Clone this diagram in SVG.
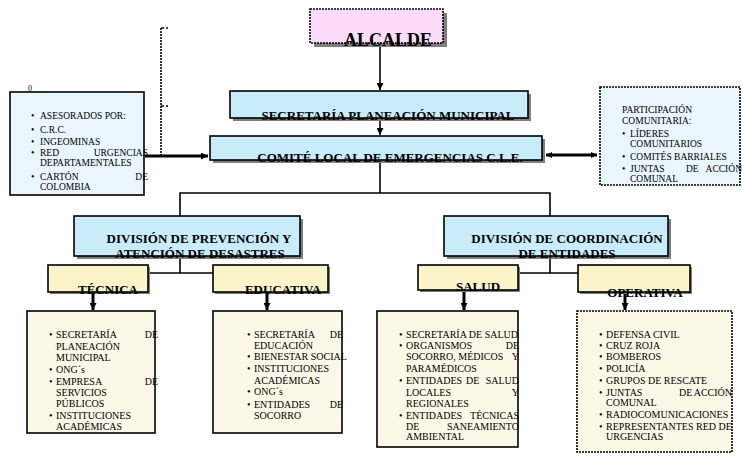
<svg xmlns="http://www.w3.org/2000/svg" width="742" height="462" viewBox="0 0 742 462">
<defs>
<marker id="ah" viewBox="0 0 10 10" refX="10" refY="5" markerWidth="7" markerHeight="7" markerUnits="userSpaceOnUse" orient="auto"><path d="M0,0 L10,5 L0,10 z" fill="#000"/></marker>
<marker id="ahs" viewBox="0 0 10 10" refX="10" refY="5" markerWidth="6" markerHeight="6" markerUnits="userSpaceOnUse" orient="auto-start-reverse"><path d="M0,0 L10,5 L0,10 z" fill="#000"/></marker>
</defs>
<style>
text{font-family:"Liberation Serif","Times New Roman",serif;fill:#000}
.t{font-weight:bold;font-size:13px;text-anchor:middle}
.l{font-size:10px}
.s{font-size:9.5px}
.e{text-anchor:end}
.sh{fill:#7f7f7f}
.box{stroke:#000;stroke-width:1.6}
.dash{stroke:#000;stroke-width:1.6;stroke-dasharray:2 1}
.blue{fill:#c8ecfa}
.pale{fill:#eaf6fd}
.yel{fill:#faf4c8}
.cream{fill:#fcf8e8}
.ln{stroke:#000;stroke-width:1.6;fill:none}
.th{stroke:#000;stroke-width:3;fill:none}
</style>

<g id="connectors">
<line class="ln" x1="380" y1="44" x2="380" y2="90" marker-end="url(#ah)"/>
<line class="ln" x1="380" y1="119" x2="380" y2="135" marker-end="url(#ah)"/>
<line class="th" x1="145" y1="156" x2="208" y2="156" marker-end="url(#ah)"/>
<line class="ln" x1="161" y1="28" x2="161" y2="156" stroke-dasharray="2 1"/>
<line class="ln" x1="161" y1="28" x2="168" y2="28" stroke-dasharray="3 2"/>
<line class="ln" x1="161" y1="106" x2="168" y2="106" stroke-dasharray="3 2"/>
<line class="th" x1="546" y1="155" x2="597" y2="155" marker-start="url(#ahs)" marker-end="url(#ahs)"/>
<polyline class="ln" points="380,161 380,193"/>
<polyline class="ln" points="180,216 180,193 550,193 550,216"/>
<polyline class="ln" points="180,257 180,273"/>
<line class="ln" x1="148" y1="273" x2="213" y2="273"/>
<polyline class="ln" points="550,257 550,273"/>
<line class="ln" x1="518" y1="273" x2="578" y2="273"/>
<line class="th" x1="93" y1="293" x2="93" y2="310" marker-end="url(#ah)"/>
<line class="th" x1="267" y1="293" x2="267" y2="310" marker-end="url(#ah)"/>
<line class="th" x1="464" y1="291" x2="464" y2="310" marker-end="url(#ah)"/>
<line class="th" x1="625" y1="293" x2="625" y2="310" marker-end="url(#ah)"/>
</g>

<g id="alcalde">
<rect class="sh" x="314" y="13" width="133" height="34"/>
<rect class="dash" x="310" y="9" width="133" height="34" fill="#fddcfb"/>
<text class="t" x="388" y="46" style="font-size:18px">ALCALDE</text>
</g>

<g id="secretaria">
<rect class="sh" x="233" y="94" width="298" height="27"/>
<rect class="box blue" x="230" y="91" width="298" height="27"/>
<text class="t" x="388" y="120">SECRETARÍA PLANEACIÓN MUNICIPAL</text>
</g>

<g id="comite">
<rect class="sh" x="213" y="139" width="332" height="24"/>
<rect class="box blue" x="210" y="136" width="332" height="24"/>
<text class="t" x="390" y="162">COMITÉ LOCAL DE EMERGENCIAS  C.L.E.</text>
</g>

<g id="asesorados">
<text x="28" y="91" style="font-size:8px">0</text>
<rect class="box pale" x="10" y="92" width="134" height="103"/>
<text class="s"><tspan x="31" y="119">•</tspan><tspan x="40">ASESORADOS POR:</tspan>
<tspan x="31" y="133">•</tspan><tspan x="40">C.R.C.</tspan>
<tspan x="31" y="145">•</tspan><tspan x="40">INGEOMINAS</tspan>
<tspan x="31" y="156">•</tspan><tspan x="40">RED</tspan>
<tspan x="40" y="166">DEPARTAMENTALES</tspan>
<tspan x="31" y="180">•</tspan><tspan x="40">CARTÓN</tspan>
<tspan x="40" y="190">COLOMBIA</tspan></text>
<text class="s e"><tspan x="148" y="156">URGENCIAS</tspan><tspan x="148" y="180">DE</tspan></text>
</g>

<g id="participacion">
<rect class="dash pale" x="600" y="87" width="140" height="98"/>
<text class="s"><tspan x="622" y="113">PARTICIPACIÓN</tspan>
<tspan x="622" y="124">COMUNITARIA:</tspan>
<tspan x="622" y="137">•</tspan><tspan x="630">LÍDERES</tspan>
<tspan x="630" y="147">COMUNITARIOS</tspan>
<tspan x="622" y="160">•</tspan><tspan x="630">COMITÉS BARRIALES</tspan>
<tspan x="622" y="172">•</tspan><tspan x="630">JUNTAS</tspan><tspan x="686">DE</tspan>
<tspan x="630" y="182">COMUNAL</tspan></text>
<text class="s e" x="742" y="172">ACCIÓN</text>
</g>

<g id="div-prevencion">
<rect class="sh" x="77" y="219" width="226" height="40"/>
<rect class="box blue" x="74" y="216" width="226" height="40"/>
<text class="t"><tspan x="199" y="243">DIVISIÓN DE PREVENCIÓN Y</tspan><tspan x="200" y="258">ATENCIÓN DE DESASTRES</tspan></text>
</g>

<g id="div-coordinacion">
<rect class="sh" x="447" y="219" width="224" height="40"/>
<rect class="box blue" x="444" y="216" width="224" height="40"/>
<text class="t"><tspan x="567" y="243">DIVISIÓN DE COORDINACIÓN</tspan><tspan x="567" y="258">DE ENTIDADES</tspan></text>
</g>

<g id="tecnica">
<rect class="sh" x="50" y="267" width="100" height="27"/>
<rect class="box yel" x="48" y="265" width="100" height="27"/>
<text class="t" x="108" y="294">TÉCNICA</text>
</g>

<g id="educativa">
<rect class="sh" x="215" y="267" width="115" height="27"/>
<rect class="box yel" x="213" y="265" width="115" height="27"/>
<text class="t" x="283" y="294">EDUCATIVA</text>
</g>

<g id="salud">
<rect class="sh" x="420" y="267" width="100" height="25"/>
<rect class="box yel" x="418" y="265" width="100" height="25"/>
<text class="t" x="478" y="291">SALUD</text>
</g>

<g id="operativa">
<rect class="sh" x="580" y="267" width="112" height="27"/>
<rect class="box yel" x="578" y="265" width="112" height="27"/>
<text class="t" x="645" y="297">OPERATIVA</text>
</g>

<g id="lista-tecnica">
<rect class="box cream" x="27" y="311" width="128" height="122"/>
<text class="l"><tspan x="49" y="338">•</tspan><tspan x="56">SECRETARÍA</tspan>
<tspan x="56" y="350">PLANEACIÓN</tspan>
<tspan x="56" y="361">MUNICIPAL</tspan>
<tspan x="49" y="373">•</tspan><tspan x="56">ONG´s</tspan>
<tspan x="49" y="385">•</tspan><tspan x="56">EMPRESA</tspan>
<tspan x="56" y="396">SERVICIOS</tspan>
<tspan x="56" y="407">PÚBLICOS</tspan>
<tspan x="49" y="419">•</tspan><tspan x="56">INSTITUCIONES</tspan>
<tspan x="56" y="430">ACADÉMICAS</tspan></text>
<text class="l e"><tspan x="158" y="338">DE</tspan><tspan x="158" y="385">DE</tspan></text>
</g>

<g id="lista-educativa">
<rect class="box cream" x="213" y="311" width="129" height="122"/>
<text class="l"><tspan x="247" y="338">•</tspan><tspan x="254">SECRETARÍA</tspan>
<tspan x="254" y="349">EDUCACIÓN</tspan>
<tspan x="247" y="360">•</tspan><tspan x="254">BIENESTAR SOCIAL</tspan>
<tspan x="247" y="372">•</tspan><tspan x="254">INSTITUCIONES</tspan>
<tspan x="254" y="384">ACADÉMICAS</tspan>
<tspan x="247" y="395">•</tspan><tspan x="254">ONG´s</tspan>
<tspan x="247" y="408">•</tspan><tspan x="254">ENTIDADES</tspan>
<tspan x="254" y="419">SOCORRO</tspan></text>
<text class="l e"><tspan x="343" y="338">DE</tspan><tspan x="343" y="408">DE</tspan></text>
</g>

<g id="lista-salud">
<rect class="box cream" x="377" y="311" width="141" height="136"/>
<text class="l"><tspan x="399" y="338">•</tspan><tspan x="406">SECRETARÍA DE SALUD</tspan>
<tspan x="399" y="349">•</tspan><tspan x="406">ORGANISMOS</tspan>
<tspan x="406" y="360">SOCORRO, MÉDICOS</tspan>
<tspan x="406" y="372">PARAMÉDICOS</tspan>
<tspan x="399" y="384">•</tspan><tspan x="406">ENTIDADES</tspan><tspan x="466">DE</tspan>
<tspan x="406" y="396">LOCALES</tspan>
<tspan x="406" y="407">REGIONALES</tspan>
<tspan x="399" y="419">•</tspan><tspan x="406">ENTIDADES</tspan>
<tspan x="406" y="430">DE</tspan>
<tspan x="406" y="440">AMBIENTAL</tspan></text>
<text class="l e"><tspan x="519" y="349">DE</tspan><tspan x="519" y="360">Y</tspan><tspan x="519" y="384">SALUD</tspan><tspan x="519" y="396">Y</tspan><tspan x="519" y="419">TÉCNICAS</tspan><tspan x="519" y="430">SANEAMIENTO</tspan></text>
</g>

<g id="lista-operativa">
<rect class="dash cream" x="577" y="311" width="155" height="141"/>
<text class="l"><tspan x="599" y="338">•</tspan><tspan x="606">DEFENSA CIVIL</tspan>
<tspan x="599" y="349">•</tspan><tspan x="606">CRUZ ROJA</tspan>
<tspan x="599" y="360">•</tspan><tspan x="606">BOMBEROS</tspan>
<tspan x="599" y="372">•</tspan><tspan x="606">POLICÍA</tspan>
<tspan x="599" y="384">•</tspan><tspan x="606">GRUPOS DE RESCATE</tspan>
<tspan x="599" y="396">•</tspan><tspan x="606">JUNTAS</tspan><tspan x="679">DE</tspan>
<tspan x="606" y="406">COMUNAL</tspan>
<tspan x="599" y="418">•</tspan><tspan x="606">RADIOCOMUNICACIONES</tspan>
<tspan x="599" y="430">•</tspan><tspan x="606">REPRESENTANTES RED DE</tspan>
<tspan x="606" y="440">URGENCIAS</tspan></text>
<text class="l e" x="732" y="396">ACCIÓN</text>
</g>
</svg>
